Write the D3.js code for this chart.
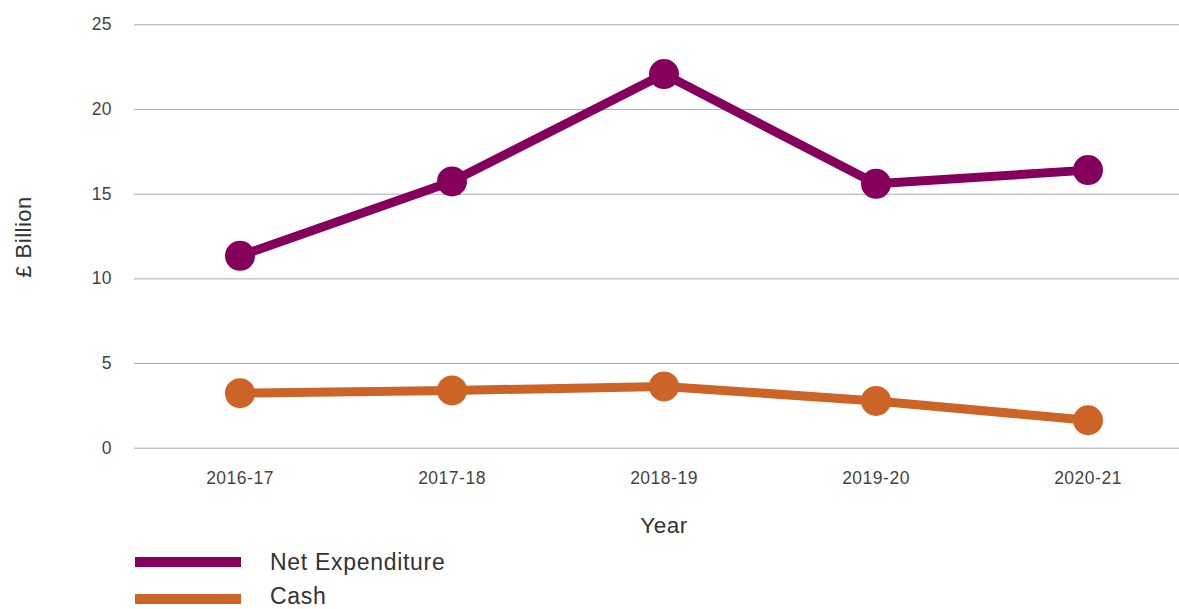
<!DOCTYPE html>
<html><head><meta charset="utf-8">
<script src="https://cdn.jsdelivr.net/npm/d3@7"></script>
<style>body{margin:0;background:#fff;} svg{display:block;font-family:"Liberation Sans",Arial,sans-serif;}</style>
</head><body>
<svg id="c" width="1179" height="609"></svg>
<script>
const categories = ["2016-17","2017-18","2018-19","2019-20","2020-21"];
const netExpenditure = [11.33, 15.72, 22.06, 15.58, 16.39];
const cash = [3.22, 3.38, 3.62, 2.76, 1.62];
const yTicks = [0,5,10,15,20,25];
const seriesNames = ["Net Expenditure","Cash"];
const colors = ["#85005C","#CC6428"];

const svg = d3.select("#c");
const x = d3.scaleBand().domain(categories).range([134,1194]);
const y = d3.scaleLinear().domain([0,25]).range([447.7,24.3]);

const yAxis = svg.append("g").attr("transform","translate(134,0)")
  .call(d3.axisLeft(y).tickValues(yTicks).tickSize(-1045).tickPadding(22));
yAxis.select(".domain").remove();
yAxis.selectAll(".tick line").attr("stroke","#aaa").attr("stroke-width",1);
yAxis.selectAll(".tick text").attr("fill","#444").attr("font-size",17.5).attr("letter-spacing",0.4)
  .attr("font-family","Liberation Sans, Arial, sans-serif");

const xAxis = svg.append("g").attr("transform","translate(0,448)")
  .call(d3.axisBottom(x).tickSize(0).tickPadding(24));
xAxis.select(".domain").remove();
xAxis.selectAll(".tick text").attr("fill","#444").attr("font-size",17.5).attr("letter-spacing",0.5)
  .attr("font-family","Liberation Sans, Arial, sans-serif");

const cx = d => x(d) + x.bandwidth()/2;
const data = [netExpenditure, cash];
data.forEach((vals,i)=>{
  const pts = categories.map((c,j)=>[cx(c), y(vals[j])]);
  svg.append("path").attr("d", d3.line()(pts)).attr("fill","none")
    .attr("stroke",colors[i]).attr("stroke-width",9).attr("stroke-linejoin","round");
  svg.selectAll(null).data(pts).enter().append("circle")
    .attr("cx",d=>d[0]).attr("cy",d=>d[1]).attr("r",15).attr("fill",colors[i]);
});

svg.append("text").attr("x",664).attr("y",533).attr("text-anchor","middle")
  .attr("font-size",22.5).attr("letter-spacing",0.5).attr("fill","#333").text("Year");
svg.append("text").attr("transform","translate(31,237) rotate(-90)").attr("text-anchor","middle")
  .attr("font-size",22).attr("letter-spacing",0.5).attr("fill","#333").text("£ Billion");

seriesNames.forEach((n,i)=>{
  const yy = 562 + i*37;
  svg.append("rect").attr("x",135).attr("y",yy-5).attr("width",106).attr("height",10).attr("fill",colors[i]);
  svg.append("text").attr("x",270).attr("y",yy+(i===1?5:8)).attr("font-size",23).attr("letter-spacing",0.7)
    .attr("fill","#333").text(n);
});
</script>
</body></html>
